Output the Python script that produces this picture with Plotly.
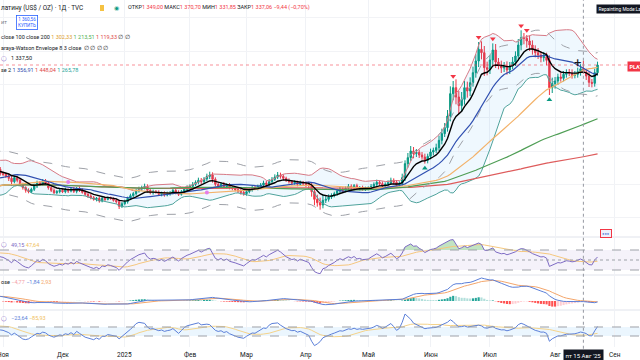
import numpy as np
import pandas as pd
import plotly.graph_objects as go
from plotly.subplots import make_subplots

# ---------------- data (daily closes, US$/oz) ----------------
close_sep24 = [930, 928, 930, 935, 928, 940, 945, 960, 985, 1000, 995, 990, 985, 1000, 995, 990, 1000, 1005, 1015, 1005, 995]
close_oct24 = [1005, 1010, 1005, 1000, 990, 975, 970, 990, 1000, 1005, 1000, 1010, 1020, 1030, 1045, 1050, 1040, 1045, 1050, 1045, 1050, 1045, 1032]
close_nov24 = [1030, 1025, 1018, 1008, 1020, 1012, 1000, 990, 982, 978, 985, 995, 1005, 1000, 1010, 1004, 990, 982, 975, 978, 982]
close_dec24 = [978, 984, 980, 986, 979, 988, 982, 976, 970, 965, 960, 955, 958, 950, 958, 955, 960, 957, 952, 948, 934, 942]
close_jan25 = [948, 958, 966, 972, 980, 986, 990, 994, 982, 975, 978, 976, 970, 974, 968, 972, 975, 982, 976, 970, 978, 985, 990]
close_feb25 = [994, 1000, 1006, 1012, 1008, 1016, 1024, 1028, 1015, 1000, 995, 1000, 993, 998, 990, 988, 984, 980, 976, 972]
close_mar25 = [978, 984, 990, 988, 994, 998, 1004, 1000, 1008, 1015, 1022, 1028, 1024, 1018, 1012, 1008, 1004, 1006, 1000, 1005, 1002]
close_apr25 = [1000, 996, 978, 955, 945, 938, 952, 955, 962, 966, 972, 980, 986, 982, 988, 994, 990, 996, 988, 990, 986, 988]
close_may25 = [988, 994, 1000, 1006, 1002, 996, 1000, 1005, 1012, 1006, 998, 1003, 1020, 1062, 1080, 1100, 1092, 1096, 1088, 1082, 1072, 1084]
close_jun25 = [1097, 1102, 1110, 1132, 1152, 1170, 1205, 1272, 1290, 1262, 1236, 1255, 1290, 1280, 1305, 1335, 1370, 1405, 1395, 1350, 1345]
close_jul25 = [1373, 1403, 1367, 1357, 1349, 1355, 1343, 1355, 1367, 1385, 1418, 1440, 1438, 1430, 1418, 1405, 1395, 1388, 1380, 1383, 1372, 1290, 1302]
close_aug25 = [1310, 1322, 1318, 1330, 1336, 1333, 1327, 1330, 1338, 1346.5, 1337.06, 1325, 1306, 1303, 1335, 1358]

# upper / lower wick lengths of the visible candles (Oct 31 .. Aug 22)
wick_up_oct = [7]
wick_dn_oct = [6]
wick_up_nov = [6, 5, 8, 10, 6, 5, 6, 5, 4, 6, 5, 7, 6, 5, 6, 6, 5, 4, 6, 5, 4]
wick_dn_nov = [5, 6, 8, 12, 5, 6, 5, 6, 7, 5, 4, 5, 6, 5, 4, 5, 6, 5, 4, 5, 5]
wick_up_dec = [5, 6, 4, 5, 6, 4, 5, 6, 5, 4, 6, 5, 4, 5, 6, 4, 3, 3, 4, 5, 6, 5]
wick_dn_dec = [4, 5, 6, 4, 5, 6, 5, 4, 5, 6, 5, 4, 6, 5, 4, 5, 3, 3, 4, 6, 8, 5]
wick_up_jan = [6, 5, 6, 5, 6, 7, 6, 8, 6, 5, 6, 5, 6, 4, 5, 6, 5, 6, 5, 6, 5, 6, 7]
wick_dn_jan = [5, 6, 5, 4, 6, 5, 6, 5, 7, 5, 6, 4, 5, 6, 5, 4, 6, 5, 6, 5, 4, 5, 6]
wick_up_feb = [6, 7, 6, 8, 7, 6, 8, 10, 8, 6, 5, 6, 7, 5, 6, 5, 6, 5, 6, 5]
wick_dn_feb = [5, 6, 5, 6, 7, 5, 6, 8, 10, 6, 5, 6, 5, 6, 5, 6, 5, 6, 7, 6]
wick_up_mar = [5, 6, 5, 6, 5, 6, 7, 6, 8, 7, 8, 9, 7, 6, 5, 6, 5, 6, 5, 6, 5]
wick_dn_mar = [6, 5, 6, 5, 6, 5, 6, 7, 5, 6, 5, 6, 7, 6, 5, 6, 7, 5, 6, 5, 6]
wick_up_apr = [6, 8, 10, 12, 14, 15, 18, 10, 8, 7, 6, 7, 6, 5, 6, 7, 6, 5, 6, 5, 6, 5]
wick_dn_apr = [8, 10, 15, 18, 12, 14, 10, 8, 7, 6, 5, 6, 7, 5, 6, 5, 6, 7, 5, 6, 5, 6]
wick_up_may = [6, 7, 6, 8, 6, 7, 6, 7, 8, 6, 7, 6, 12, 10, 14, 15, 12, 10, 8, 9, 10, 8]
wick_dn_may = [6, 5, 6, 7, 6, 5, 6, 5, 7, 6, 5, 6, 8, 10, 12, 10, 14, 10, 9, 8, 10, 9]
wick_up_jun = [10, 8, 12, 14, 15, 14, 18, 22, 20, 25, 18, 22, 20, 18, 16, 18, 20, 22, 24, 20, 18]
wick_dn_jun = [9, 10, 8, 10, 12, 10, 12, 16, 20, 22, 25, 18, 16, 20, 15, 12, 15, 18, 20, 25, 18]
wick_up_jul = [15, 20, 18, 12, 14, 12, 14, 12, 15, 14, 18, 22, 14, 10, 16, 14, 12, 14, 12, 14, 12, 15, 18]
wick_dn_jul = [14, 16, 18, 12, 15, 12, 14, 12, 10, 12, 14, 16, 18, 20, 18, 16, 14, 12, 14, 12, 15, 22, 16]
wick_up_aug = [12, 10, 12, 10, 9, 10, 12, 10, 12, 14, 24.2, 10, 12, 10, 12, 10]
wick_dn_aug = [15, 12, 10, 9, 10, 8, 10, 9, 10, 12, 5.2, 12, 14, 12, 10, 9]

month_spans = [("2024-09-02", "2024-09-30"), ("2024-10-01", "2024-10-31"), ("2024-11-01", "2024-11-29"),
               ("2024-12-02", "2024-12-31"), ("2025-01-01", "2025-01-31"), ("2025-02-03", "2025-02-28"),
               ("2025-03-03", "2025-03-31"), ("2025-04-01", "2025-04-30"), ("2025-05-01", "2025-05-30"),
               ("2025-06-02", "2025-06-30"), ("2025-07-01", "2025-07-31"), ("2025-08-01", "2025-08-22")]
month_closes = [close_sep24, close_oct24, close_nov24, close_dec24, close_jan25, close_feb25, close_mar25,
                close_apr25, close_may25, close_jun25, close_jul25, close_aug25]

sell_signal_dates = ["2025-06-12", "2025-06-25", "2025-07-02", "2025-07-16", "2025-07-18"]
buy_signal_dates = ["2025-05-29", "2025-07-30"]
cross_dot_dates = ["2024-12-04", "2025-02-11"]

tick_dates = ["2024-11-01", "2024-12-02", "2025-01-01", "2025-02-03", "2025-03-03", "2025-04-01",
              "2025-05-01", "2025-06-02", "2025-07-01", "2025-08-01", "2025-09-01"]
tick_text = ["Ноя", "Дек", "2025", "Фев", "Мар", "Апр", "Май", "Июн", "Июл", "Авг", "Сен"]

# ---------------- assemble series ----------------
dates, closes = [], []
for (a, b), cl in zip(month_spans, month_closes):
    d = list(pd.bdate_range(a, b))
    m = min(len(d), len(cl))
    dates += d[:m]
    closes += cl[:m]
dates = pd.DatetimeIndex(dates)
s = pd.Series(np.array(closes, float), index=dates)

wu = wick_up_oct + wick_up_nov + wick_up_dec + wick_up_jan + wick_up_feb + wick_up_mar + wick_up_apr + wick_up_may + wick_up_jun + wick_up_jul + wick_up_aug
wd = wick_dn_oct + wick_dn_nov + wick_dn_dec + wick_dn_jan + wick_dn_feb + wick_dn_mar + wick_dn_apr + wick_dn_may + wick_dn_jun + wick_dn_jul + wick_dn_aug
nv = len(wu)
c_all = s.values
o_all = np.r_[c_all[0], c_all[:-1]]
cv = c_all[-nv:]
ov = o_all[-nv:]
hv = np.maximum(ov, cv) + np.array(wu, float)
lv = np.minimum(ov, cv) - np.array(wd, float)
dv = dates[-nv:]
hi_s = pd.Series(hv, index=dv)
lo_s = pd.Series(lv, index=dv)

# ---------------- indicators ----------------
ema9 = s.ewm(span=9, adjust=False).mean()
bb_mid = s.rolling(20, min_periods=1).mean()
bb_sd = s.rolling(20, min_periods=1).std(ddof=0)
bb_up = bb_mid + 2 * bb_sd
bb_lo = bb_mid - 2 * bb_sd
sma50 = s.rolling(50, min_periods=1).mean()
sma100 = s.rolling(100, min_periods=1).mean()
sma200 = s.rolling(200, min_periods=1).mean()

n = len(c_all)
nw = np.empty(n)
for t in range(n):
    m = min(t, 499)
    i = np.arange(m + 1)
    w = np.exp(-(i ** 2) / (2 * 8.0 ** 2))
    nw[t] = np.sum(c_all[t - i] * w) / np.sum(w)
mae = 3 * np.mean(np.abs(c_all - nw))
nw_up = pd.Series(nw + mae, index=dates)
nw_lo = pd.Series(nw - mae, index=dates)

dlt = s.diff()
gain = dlt.clip(lower=0).ewm(alpha=1 / 14, adjust=False).mean()
loss = (-dlt.clip(upper=0)).ewm(alpha=1 / 14, adjust=False).mean()
rsi = 100 - 100 / (1 + gain / loss)
rsi_ma = rsi.rolling(14, min_periods=1).mean()

macd = s.ewm(span=12, adjust=False).mean() - s.ewm(span=26, adjust=False).mean()
signal = macd.ewm(span=9, adjust=False).mean()
hist = macd - signal

tp = s
tp_ma = tp.rolling(20, min_periods=1).mean()
md = tp.rolling(20, min_periods=1).apply(lambda x: np.mean(np.abs(x - x.mean())), raw=True)
cci = (tp - tp_ma) / (0.015 * md.replace(0, np.nan))
cci_ma = cci.rolling(14, min_periods=1).mean()

vis = dates >= pd.Timestamp("2024-10-28")
dx = dates[vis]

# ---------------- figure ----------------
H = 347.0
def py(ypx):
    return (H - ypx) / H

fig = make_subplots(rows=4, cols=1, shared_xaxes=True, vertical_spacing=0)
fig.update_layout(
    yaxis=dict(domain=[py(236), 1]),
    yaxis2=dict(domain=[py(274), py(238)]),
    yaxis3=dict(domain=[py(309), py(276)]),
    yaxis4=dict(domain=[0, py(311)]),
)

UP, DN = "#089981", "#F23645"
fig.add_trace(go.Scatter(x=dx, y=bb_up[vis], mode="lines", line=dict(color="#d77a86", width=1)), 1, 1)
fig.add_trace(go.Scatter(x=dx, y=bb_lo[vis], mode="lines", line=dict(color="#4fa39c", width=1),
                         fill="tonexty", fillcolor="rgba(33,150,243,0.07)"), 1, 1)
fig.add_trace(go.Scatter(x=dx, y=sma200[vis], mode="lines", line=dict(color="#de5b5b", width=1.2)), 1, 1)
fig.add_trace(go.Scatter(x=dx, y=sma100[vis], mode="lines", line=dict(color="#4f9e55", width=1.2)), 1, 1)
fig.add_trace(go.Scatter(x=dx, y=sma50[vis], mode="lines", line=dict(color="#f3b26a", width=1.2)), 1, 1)
fig.add_trace(go.Scatter(x=dx, y=nw_up[vis], mode="lines", line=dict(color="#9ea1a8", width=1, dash="dash")), 1, 1)
fig.add_trace(go.Scatter(x=dx, y=nw_lo[vis], mode="lines", line=dict(color="#9ea1a8", width=1, dash="dash")), 1, 1)
fig.add_trace(go.Scatter(x=dx, y=bb_mid[vis], mode="lines", line=dict(color="#2f4fb0", width=1.2)), 1, 1)
fig.add_trace(go.Candlestick(x=dv, open=ov, high=hv, low=lv, close=cv,
                             increasing=dict(line=dict(color=UP, width=1), fillcolor=UP),
                             decreasing=dict(line=dict(color=DN, width=1), fillcolor=DN)), 1, 1)
fig.add_trace(go.Scatter(x=dx, y=ema9[vis], mode="lines", line=dict(color="#000000", width=1.4)), 1, 1)

sd = pd.DatetimeIndex(sell_signal_dates)
fig.add_trace(go.Scatter(x=sd, y=hi_s.reindex(sd) + 14, mode="markers",
                         marker=dict(symbol="triangle-down", size=5, color=DN)), 1, 1)
bd = pd.DatetimeIndex(buy_signal_dates)
fig.add_trace(go.Scatter(x=bd, y=lo_s.reindex(bd) - 14, mode="markers",
                         marker=dict(symbol="triangle-up", size=5, color=UP)), 1, 1)
cd = pd.DatetimeIndex(cross_dot_dates)
fig.add_trace(go.Scatter(x=cd, y=sma50.reindex(cd), mode="markers",
                         marker=dict(symbol="circle", size=4, color="#e57ee8")), 1, 1)

# RSI pane
r70 = pd.Series(70.0, index=dx)
fig.add_trace(go.Scatter(x=dx, y=r70, mode="lines", line=dict(width=0)), 2, 1)
fig.add_trace(go.Scatter(x=dx, y=np.maximum(rsi[vis], 70), mode="lines", line=dict(width=0),
                         fill="tonexty", fillcolor="rgba(76,175,80,0.35)"), 2, 1)
fig.add_trace(go.Scatter(x=dx, y=rsi_ma[vis], mode="lines", line=dict(color="#f5c77e", width=1)), 2, 1)
fig.add_trace(go.Scatter(x=dx, y=rsi[vis], mode="lines", line=dict(color="#7e6bc4", width=1)), 2, 1)

# MACD pane
hv_ = hist[vis].values
prev = hist.shift(1)[vis].values
hcol = []
for a, b in zip(hv_, prev):
    if a >= 0:
        hcol.append("#26A69A" if a >= b else "#B2DFDB")
    else:
        hcol.append("#FFCDD2" if a >= b else "#FF5252")
fig.add_trace(go.Bar(x=dx, y=hv_, marker=dict(color=hcol, line=dict(width=0))), 3, 1)
fig.add_trace(go.Scatter(x=dx, y=signal[vis], mode="lines", line=dict(color="#f4a66b", width=1)), 3, 1)
fig.add_trace(go.Scatter(x=dx, y=macd[vis], mode="lines", line=dict(color="#5b7fd9", width=1)), 3, 1)

# CCI pane
fig.add_trace(go.Scatter(x=dx, y=cci_ma[vis], mode="lines", line=dict(color="#f5d38a", width=1)), 4, 1)
fig.add_trace(go.Scatter(x=dx, y=cci[vis], mode="lines", line=dict(color="#5b7fd9", width=1)), 4, 1)

# axes
x_left = pd.Timestamp("2024-10-30 22:00")
x_right = pd.Timestamp("2025-09-12")
fig.update_xaxes(range=[x_left, x_right], rangebreaks=[dict(bounds=["sat", "mon"])],
                 tickvals=pd.DatetimeIndex(tick_dates), ticktext=tick_text,
                 showgrid=True, gridcolor="#f0f2f6", zeroline=False, showline=False,
                 showticklabels=False, ticks="", rangeslider=dict(visible=False))
fig.update_yaxes(showticklabels=False, zeroline=False, showline=False, ticks="")
fig.update_yaxes(range=[845, 1553], dtick=100, showgrid=True, gridcolor="#f2f3f6", row=1, col=1)
fig.update_yaxes(range=[22, 94], showgrid=False, row=2, col=1)
mmax = float(np.nanmax(np.abs(macd[vis].values)))
fig.update_yaxes(range=[-mmax * 8 / 23, mmax * 25 / 23], showgrid=False, row=3, col=1)
fig.update_yaxes(range=[-344, 455], showgrid=False, row=4, col=1)

# shapes: bands, separators, price line, crosshair
fig.add_shape(type="rect", xref="paper", x0=0, x1=1, yref="y2", y0=30, y1=70,
              fillcolor="rgba(126,87,194,0.08)", line=dict(width=0), layer="below")
for lvl in (70, 50, 30):
    fig.add_shape(type="line", xref="paper", x0=0, x1=1, yref="y2", y0=lvl, y1=lvl,
                  line=dict(color="#9ea1a8", width=1, dash="dash" if lvl != 50 else "dot"))
fig.add_shape(type="rect", xref="paper", x0=0, x1=1, yref="y4", y0=-100, y1=100,
              fillcolor="rgba(33,150,243,0.09)", line=dict(width=0), layer="below")
for lvl in (100, -100):
    fig.add_shape(type="line", xref="paper", x0=0, x1=1, yref="y4", y0=lvl, y1=lvl,
                  line=dict(color="#9ea1a8", width=1, dash="dash"))
for ypx in (237, 275, 310):
    fig.add_shape(type="line", xref="paper", x0=0, x1=1, yref="paper", y0=py(ypx), y1=py(ypx),
                  line=dict(color="#e0e3eb", width=1))
last_close = float(cv[-1])
fig.add_shape(type="line", xref="paper", x0=0, x1=1, yref="y", y0=last_close, y1=last_close,
              line=dict(color="rgba(242,54,69,0.55)", width=1, dash="dot"))
fig.add_shape(type="line", xref="x", x0=pd.Timestamp("2025-08-15"), x1=pd.Timestamp("2025-08-15"),
              yref="paper", y0=-0.005, y1=1, line=dict(color="#9598a1", width=1, dash="dot"))

# ---------------- texts ----------------
FONT = "Roboto"
def ann(xpx, ypx, text, size=5.6, color="#131722", **kw):
    fig.add_annotation(x=xpx / 640, y=py(ypx), xref="paper", yref="paper", xanchor=kw.pop("xanchor", "left"),
                       yanchor="middle", text=text, showarrow=False,
                       font=dict(size=size, color=color, family=FONT), **kw)

R = "#F23645"
def sp(t, c):
    return f"<span style='color:{c}'>{t}</span>"

ann(-1, 8, "латину (US$ / OZ) · 1Д · TVC", size=6.4)
fig.add_shape(type="rect", xref="paper", yref="paper", x0=100 / 640, x1=104 / 640, y0=py(11), y1=py(5),
              fillcolor="#f5c242", line=dict(width=0))
ann(112, 8, "◉", size=6, color="#089981")
ann(126, 8, "ОТКР" + sp("1 349,00", R) + " МАКС" + sp("1 370,70", R) + " МИН" + sp("1 331,85", R)
    + " ЗАКР" + sp("1 337,06", R) + " " + sp("−9,44 (−0,70%)", R), size=5.5)
ann(-1, 22, "ит", size=5.5, color="#787b86")
ann(26.5, 22, "1 360,56<br>КУПИТЬ", size=4.6, color="#2962FF", xanchor="center",
    bordercolor="#2962FF", borderwidth=0.8, borderpad=1.2, bgcolor="#ffffff")
ann(-1, 37, "close 100 close 200 " + sp("1 302,33", "#e0a030") + " " + sp("1 213,51", "#4CAF50") + " "
    + sp("1 119,33", "#e04848") + " " + sp("∅ ∅", "#131722"), size=5.5)
ann(-1, 48, "araya-Watson Envelope 8 3 close  ∅ ∅ ∅ ∅", size=5.5)
ann(-1, 58, "◯", size=5, color="#7e57c2")
ann(9, 58, "1 337,50", size=5.5)
ann(-1, 70, "se 2 " + sp("1 356,91", "#2f4fb0") + " " + sp("1 448,04", "#e04848") + " " + sp("1 265,78", "#26a69a"),
    size=5.5)

ann(-1, 245, "◯", size=5, color="#7e57c2")
ann(9, 245, sp("49,15", "#7e6bc4") + " " + sp("47,64", "#f0c060"), size=5.5)
ann(-1, 282, "ose " + sp("−4,77", "#f4a0a8") + " " + sp("−1,84", "#5b7fd9") + " " + sp("2,93", "#f4a66b"), size=5.5)
ann(-1, 318, "◯", size=5, color="#7e57c2")
ann(9, 318, sp("−23,64", "#5b7fd9") + " " + sp("−85,93", "#f0c060"), size=5.5)

# labels on the right
ann(627, 67, "<b>PLAT</b>", size=5.5, color="#ffffff", bgcolor=R, borderpad=1.5)
ann(596, 9, "Repainting Mode:Lab", size=4.8, color="#ffffff", bgcolor="#131722", borderpad=1.5)
ann(606, 233, "●●●", size=4, color="#5b7fd9", xanchor="center", bordercolor=R, borderwidth=1,
    borderpad=1, bgcolor="#eef1fa")
ann(577, 62, "+", size=13, color="#131722", xanchor="center")

# month labels along the time axis
for tdate, ttext in zip(tick_dates, tick_text):
    fig.add_annotation(x=pd.Timestamp(tdate), y=py(354.5), xref="x", yref="paper", xanchor="center",
                       yanchor="middle", text=ttext, showarrow=False,
                       font=dict(size=6.5, color="#131722", family=FONT))
fig.add_annotation(x=pd.Timestamp("2025-08-15"), y=py(354.5), xref="x", yref="paper", xanchor="center",
                   yanchor="middle", text="пт 15 Авг '25", showarrow=False, bgcolor="#131722",
                   borderpad=1.5, font=dict(size=6, color="#ffffff", family=FONT))

fig.update_layout(width=640, height=360, margin=dict(l=0, r=0, t=0, b=13),
                  paper_bgcolor="#ffffff", plot_bgcolor="#ffffff", showlegend=False,
                  bargap=0.25, hovermode=False, dragmode=False)
fig.write_html("out.html", config={"displayModeBar": False, "staticPlot": True},
               post_script="document.body.style.margin='0px';document.body.style.overflow='hidden';")
